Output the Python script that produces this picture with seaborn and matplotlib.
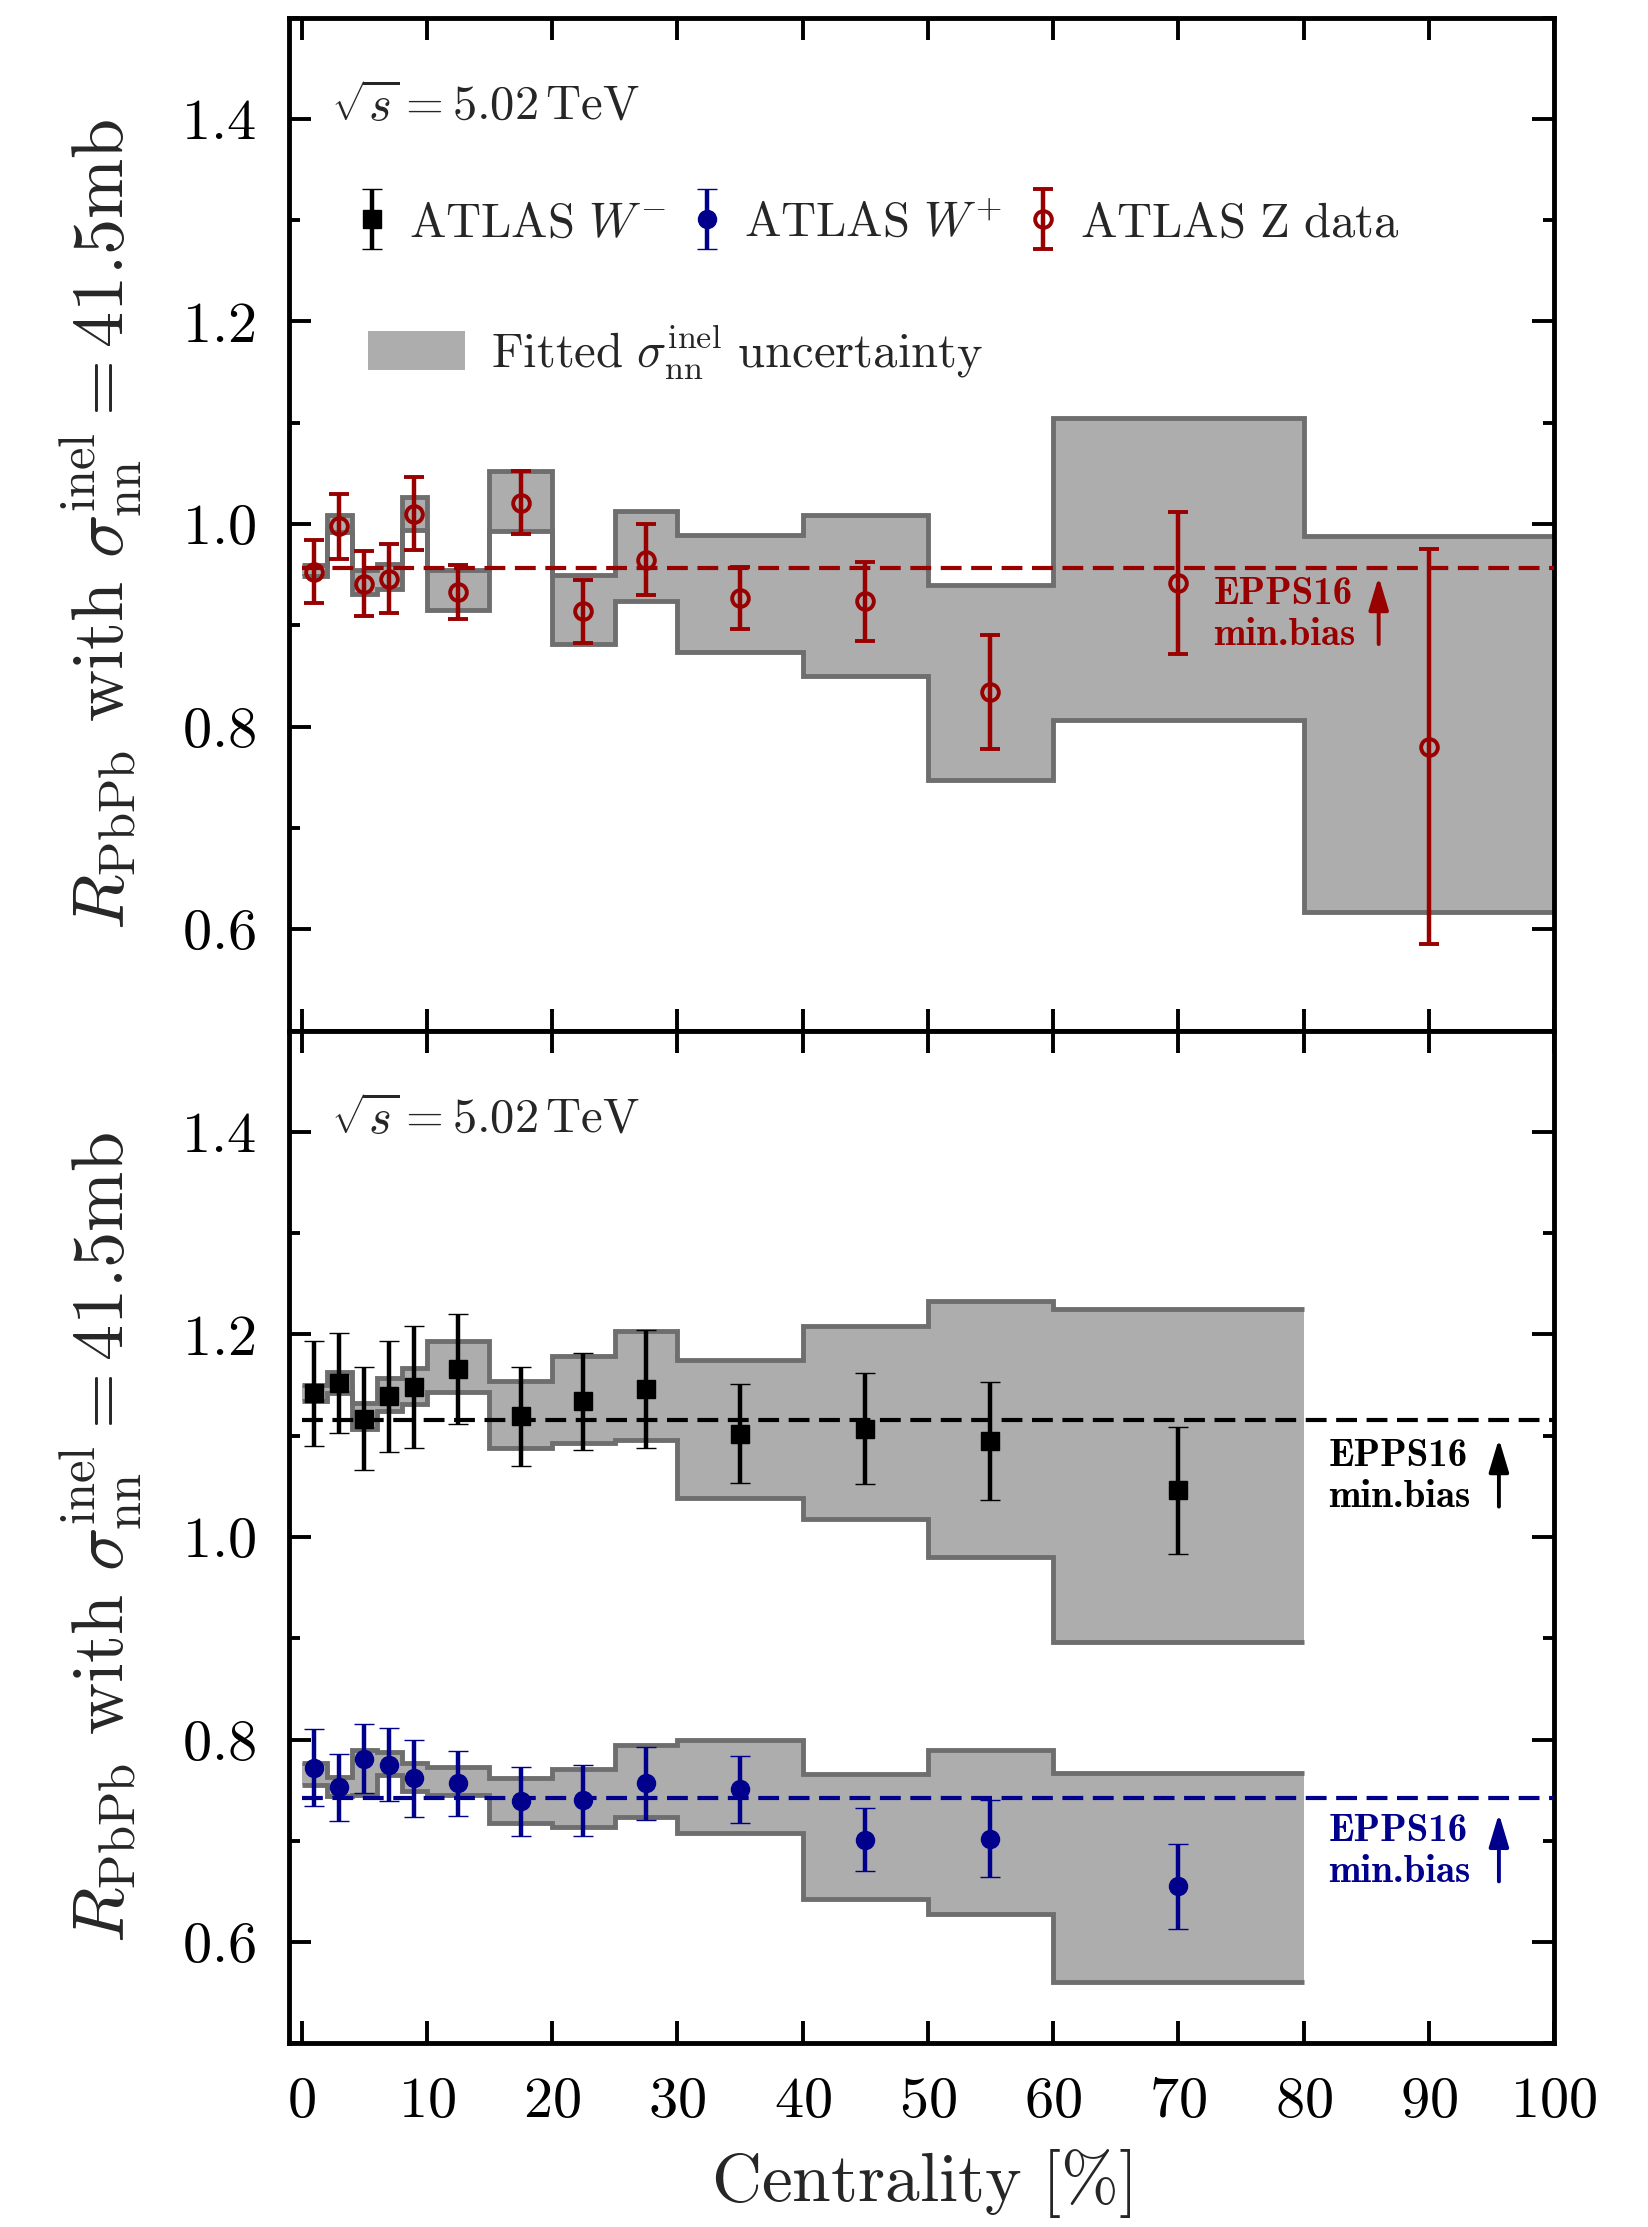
import numpy as np
import pandas as pd
import matplotlib
matplotlib.use("Agg")
import matplotlib.pyplot as plt
import seaborn as sns
from matplotlib.ticker import MultipleLocator, FixedLocator, FuncFormatter
from matplotlib.legend_handler import HandlerErrorbar
from matplotlib.container import ErrorbarContainer
from matplotlib.patches import Patch

# ---------------- data ----------------
# centrality bin edges [%]
z_edges = [0, 2, 4, 6, 8, 10, 15, 20, 25, 30, 40, 50, 60, 80, 100]
w_edges = [0, 2, 4, 6, 8, 10, 15, 20, 25, 30, 40, 50, 60, 80]

# fitted sigma_nn^inel uncertainty bands
z_band_hi = [0.960, 1.009, 0.955, 0.961, 1.027, 0.955, 1.052, 0.950, 1.013, 0.989, 1.009, 0.940, 1.105, 0.988]
z_band_lo = [0.949, 0.992, 0.931, 0.936, 0.994, 0.915, 0.993, 0.882, 0.924, 0.874, 0.850, 0.747, 0.807, 0.617]
wm_band_hi = [1.150, 1.163, 1.132, 1.157, 1.167, 1.194, 1.154, 1.179, 1.203, 1.175, 1.208, 1.233, 1.225]
wm_band_lo = [1.134, 1.142, 1.107, 1.124, 1.131, 1.143, 1.088, 1.093, 1.096, 1.039, 1.018, 0.980, 0.896]
wp_band_hi = [0.777, 0.763, 0.790, 0.788, 0.777, 0.773, 0.762, 0.771, 0.795, 0.800, 0.766, 0.790, 0.767]
wp_band_lo = [0.755, 0.744, 0.745, 0.765, 0.749, 0.745, 0.718, 0.714, 0.724, 0.708, 0.643, 0.628, 0.561]

# ATLAS Z data
z_cent = [1, 3, 5, 7, 9, 12.5, 17.5, 22.5, 27.5, 35, 45, 55, 70, 90]
z_val = [0.953, 0.998, 0.941, 0.946, 1.010, 0.933, 1.021, 0.914, 0.965, 0.927, 0.924, 0.834, 0.942, 0.780]
z_err = [0.031, 0.032, 0.032, 0.034, 0.036, 0.027, 0.031, 0.031, 0.035, 0.031, 0.039, 0.056, 0.070, 0.195]

# ATLAS W- and W+ data
w_cent = [1, 3, 5, 7, 9, 12.5, 17.5, 22.5, 27.5, 35, 45, 55, 70]
wm_val = [1.142, 1.152, 1.117, 1.139, 1.148, 1.166, 1.119, 1.134, 1.146, 1.102, 1.107, 1.095, 1.046]
wm_err = [0.052, 0.049, 0.051, 0.055, 0.060, 0.054, 0.049, 0.048, 0.058, 0.049, 0.055, 0.058, 0.063]
wp_val = [0.772, 0.753, 0.781, 0.775, 0.762, 0.757, 0.739, 0.740, 0.757, 0.751, 0.701, 0.702, 0.655]
wp_err = [0.038, 0.033, 0.034, 0.036, 0.038, 0.032, 0.034, 0.035, 0.036, 0.033, 0.031, 0.038, 0.042]

# EPPS16 minimum-bias predictions
epps_z = 0.957
epps_wm = 1.116
epps_wp = 0.742

y_ticks = [0.6, 0.8, 1.0, 1.2, 1.4]
x_ticks = [0, 10, 20, 30, 40, 50, 60, 70, 80, 90, 100]

# ---------------- style ----------------
sns.set_theme(style="ticks")
plt.rcParams.update({
    "font.family": ["cmr10", "DejaVu Serif"],
    "mathtext.fontset": "cm",
    "axes.formatter.use_mathtext": True,
    "axes.unicode_minus": False,
    "axes.edgecolor": "black",
    "xtick.color": "black",
    "ytick.color": "black",
})

RED = "#990000"
BLUE = "#00008c"
BLACK = "black"
FILL = "#adadad"
EDGE = "#6e6e6e"

fig, (ax1, ax2) = plt.subplots(2, 1, figsize=(16.49, 22.27), dpi=100, sharex=True)
fig.subplots_adjust(left=0.1753, right=0.9424, top=0.9921, bottom=0.0824, hspace=0)


def draw_band(ax, edges, lo, hi):
    ax.stairs(hi, edges, baseline=lo, fill=True, facecolor=FILL, edgecolor="none",
              linewidth=0, zorder=1)
    ax.stairs(hi, edges, baseline=None, color=EDGE, linewidth=3.5, zorder=2)
    ax.stairs(lo, edges, baseline=None, color=EDGE, linewidth=3.5, zorder=2)


def draw_epps(ax, value, color):
    df = pd.DataFrame({"centrality": [0, 100], "R": [value, value]})
    sns.lineplot(data=df, x="centrality", y="R", ax=ax, color=color, linewidth=3.0,
                 linestyle=(0, (5, 2.3)), zorder=3)


def epps_label(ax, x, y, color, y0, y1, xa):
    ax.text(x, y, "EPPS16\nmin.bias", color=color, fontfamily=["cmb10", "DejaVu Serif"],
            fontsize=28, ha="left", va="center", linespacing=1.22, zorder=5)
    ax.annotate("", xy=(xa, y1), xytext=(xa, y0),
                arrowprops=dict(arrowstyle="-|>,head_length=1.0,head_width=0.3",
                                color=color, lw=2.8, mutation_scale=20,
                                shrinkA=0, shrinkB=0), zorder=5)


eb_kw = dict(elinewidth=3.2, capsize=7.5, capthick=3.0, zorder=4, linestyle="none")

# ---- top panel: Z ----
draw_band(ax1, z_edges, z_band_lo, z_band_hi)
draw_epps(ax1, epps_z, RED)
eb_z = ax1.errorbar(z_cent, z_val, yerr=z_err, fmt="o", color=RED, mfc="none", mec=RED,
                    ms=12, mew=2.8, **eb_kw)
epps_label(ax1, 72.8, 0.910, RED, 0.8815, 0.948, 86.0)

# ---- bottom panel: W- and W+ ----
draw_band(ax2, w_edges, wm_band_lo, wm_band_hi)
draw_band(ax2, w_edges, wp_band_lo, wp_band_hi)
draw_epps(ax2, epps_wm, BLACK)
draw_epps(ax2, epps_wp, BLUE)
eb_wm = ax2.errorbar(w_cent, wm_val, yerr=wm_err, fmt="s", color=BLACK, mfc=BLACK, mec=BLACK,
                     ms=13, mew=1, **eb_kw)
eb_wp = ax2.errorbar(w_cent, wp_val, yerr=wp_err, fmt="o", color=BLUE, mfc=BLUE, mec=BLUE,
                     ms=13, mew=1, **eb_kw)
epps_label(ax2, 82.0, 1.0595, BLACK, 1.030, 1.097, 95.6)
epps_label(ax2, 82.0, 0.689, BLUE, 0.660, 0.727, 95.6)

# ---- axes cosmetics ----
ylabel = r"$R_{\rm PbPb}$ with $\sigma_{\rm nn}^{\rm inel} = 41.5$mb"
for ax in (ax1, ax2):
    ax.set_xlim(-1, 100)
    ax.set_ylim(0.5, 1.5)
    ax.yaxis.set_major_locator(FixedLocator(y_ticks))
    ax.yaxis.set_minor_locator(MultipleLocator(0.1))
    ax.xaxis.set_major_locator(FixedLocator(x_ticks))
    ax.yaxis.set_major_formatter(FuncFormatter(lambda v, _: r"$\mathrm{%.1f}$" % v))
    ax.xaxis.set_major_formatter(FuncFormatter(lambda v, _: r"$\mathrm{%d}$" % round(v)))
    for s in ax.spines.values():
        s.set_visible(True)
        s.set_linewidth(3.5)
        s.set_color("black")
    ax.tick_params(which="both", direction="in", top=True, right=True, bottom=True, left=True,
                   color="black")
    ax.tick_params(which="major", length=16, width=2.8, labelsize=42, pad=24)
    ax.tick_params(which="minor", length=8, width=2.8)
    ax.set_ylabel(ylabel, fontsize=52)
    ax.yaxis.set_label_coords(-0.114, 0.5)
    ax.set_xlabel("")

ax1.tick_params(labelbottom=False)
ax2.set_xlabel(r"$\mathrm{Centrality}\ [\%]$", fontsize=50, labelpad=14)

# energy labels
for ax in (ax1, ax2):
    ax.text(0.033, 0.912, r"$\sqrt{s} = 5.02\,\mathrm{TeV}$", transform=ax.transAxes,
            fontsize=35, ha="left", va="center")

# legends
hmap = {ErrorbarContainer: HandlerErrorbar(yerr_size=0.62)}
leg1 = ax1.legend([eb_wm, eb_wp, eb_z],
                  [r"$\mathrm{ATLAS}\ W^{-}$", r"$\mathrm{ATLAS}\ W^{+}$", r"$\mathrm{ATLAS\ Z\ data}$"],
                  loc="center left", bbox_to_anchor=(0.054, 0.796), ncol=3, frameon=False,
                  fontsize=35, handlelength=0.6, handletextpad=0.46, columnspacing=0.55,
                  borderpad=0, borderaxespad=0, numpoints=1, handler_map=hmap)
ax1.add_artist(leg1)
ax1.legend([Patch(facecolor=FILL, edgecolor="none")],
           [r"$\mathrm{Fitted}\ \sigma_{\mathrm{nn}}^{\mathrm{inel}}\ \mathrm{uncertainty}$"],
           loc="center left", bbox_to_anchor=(0.0625, 0.67), frameon=False, fontsize=35,
           handlelength=2.0, handleheight=0.85, handletextpad=0.52, borderpad=0,
           borderaxespad=0)

fig.savefig("out.png", dpi=100)
